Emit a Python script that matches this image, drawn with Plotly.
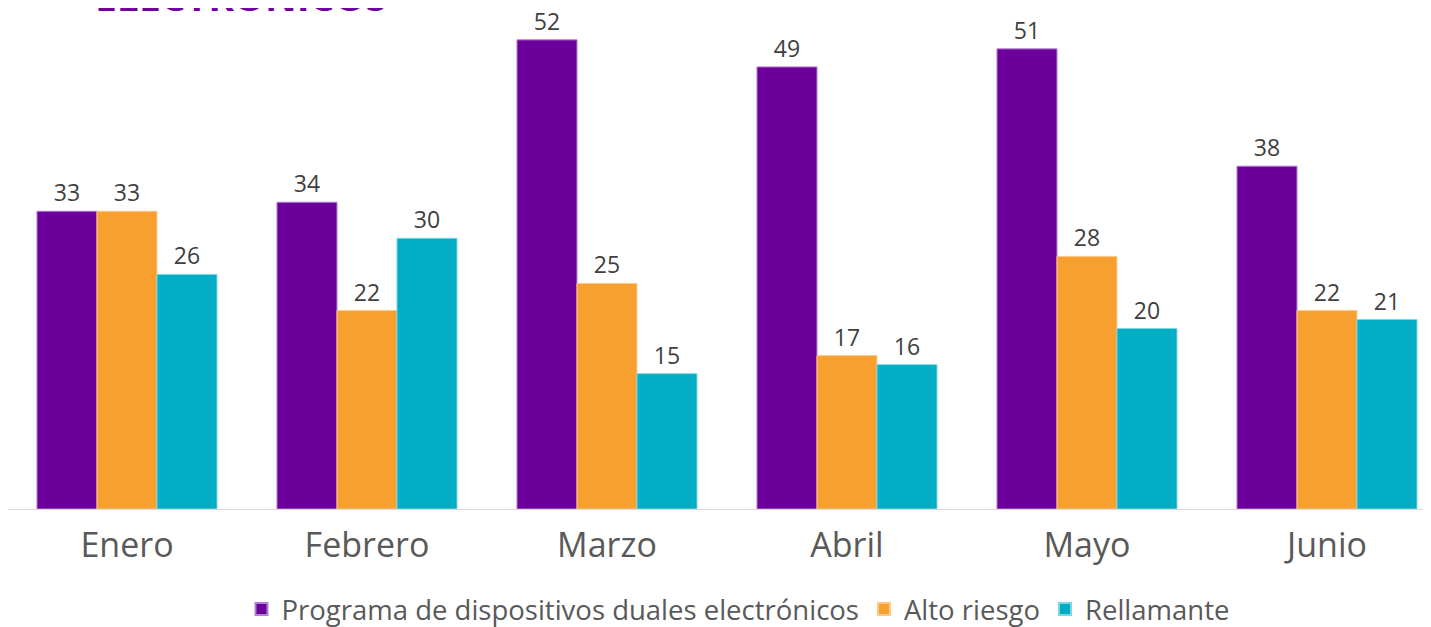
import plotly.graph_objects as go

months = ["Enero", "Febrero", "Marzo", "Abril", "Mayo", "Junio"]
programa = [33, 34, 52, 49, 51, 38]
alto_riesgo = [33, 22, 25, 17, 28, 22]
rellamante = [26, 30, 15, 16, 20, 21]

series_names = ["Programa de dispositivos duales electrónicos", "Alto riesgo", "Rellamante"]
colors = ["#6C009A", "#F7A030", "#00ADC4"]
edge_colors = ["#B37FD0", "#FBC98A", "#7FD6E1"]

# page body has an 8px margin, so the figure is drawn 8px right/down
W, H = 1423, 619
ml, mr, mt, mb = 0, 0, 12, 118
plot_h = H - mt - mb
plot_w = W - ml - mr

fig = go.Figure()
for name, vals, c, ec in zip(series_names, [programa, alto_riesgo, rellamante], colors, edge_colors):
    fig.add_trace(go.Bar(
        x=months, y=vals, name=name,
        marker=dict(color=c, line=dict(color=ec, width=1)),
        text=[str(v) for v in vals], textposition="outside",
        textfont=dict(family="Open Sans", size=23, color="#404040"),
        cliponaxis=False, constraintext="none",
    ))

x0 = -0.4958
fig.update_layout(
    width=W, height=H,
    margin=dict(l=ml, r=mr, t=mt, b=mb, autoexpand=False),
    barmode="group", bargap=0.25, bargroupgap=0,
    plot_bgcolor="white", paper_bgcolor="white",
    font=dict(family="Open Sans", color="#595959"),
    xaxis=dict(range=[x0, x0 + plot_w / 240.0], showline=True, linecolor="#D9D9D9", linewidth=1,
               ticks="", ticklabelstandoff=6,
               tickfont=dict(family="Open Sans", size=34, color="#595959"),
               showgrid=False, automargin=False),
    yaxis=dict(range=[0, 54.2], visible=False, showgrid=False, automargin=False),
    legend=dict(orientation="h", xanchor="center", yanchor="middle",
                x=(738 - 8 - ml) / plot_w, y=-(609 - 509) / plot_h,
                font=dict(family="Open Sans", size=27.5, color="#595959"),
                itemsizing="constant", traceorder="normal"),
    showlegend=True,
)

fig.add_annotation(
    text="<b>ELECTRÓNICOS</b>", xref="paper", yref="paper",
    x=(93 - 8 - ml) / plot_w, y=1, xanchor="left", yanchor="bottom",
    yshift=-4, showarrow=False,
    font=dict(family="Open Sans", size=39, color="#7000A0"),
)

fig.write_html("out.html")
